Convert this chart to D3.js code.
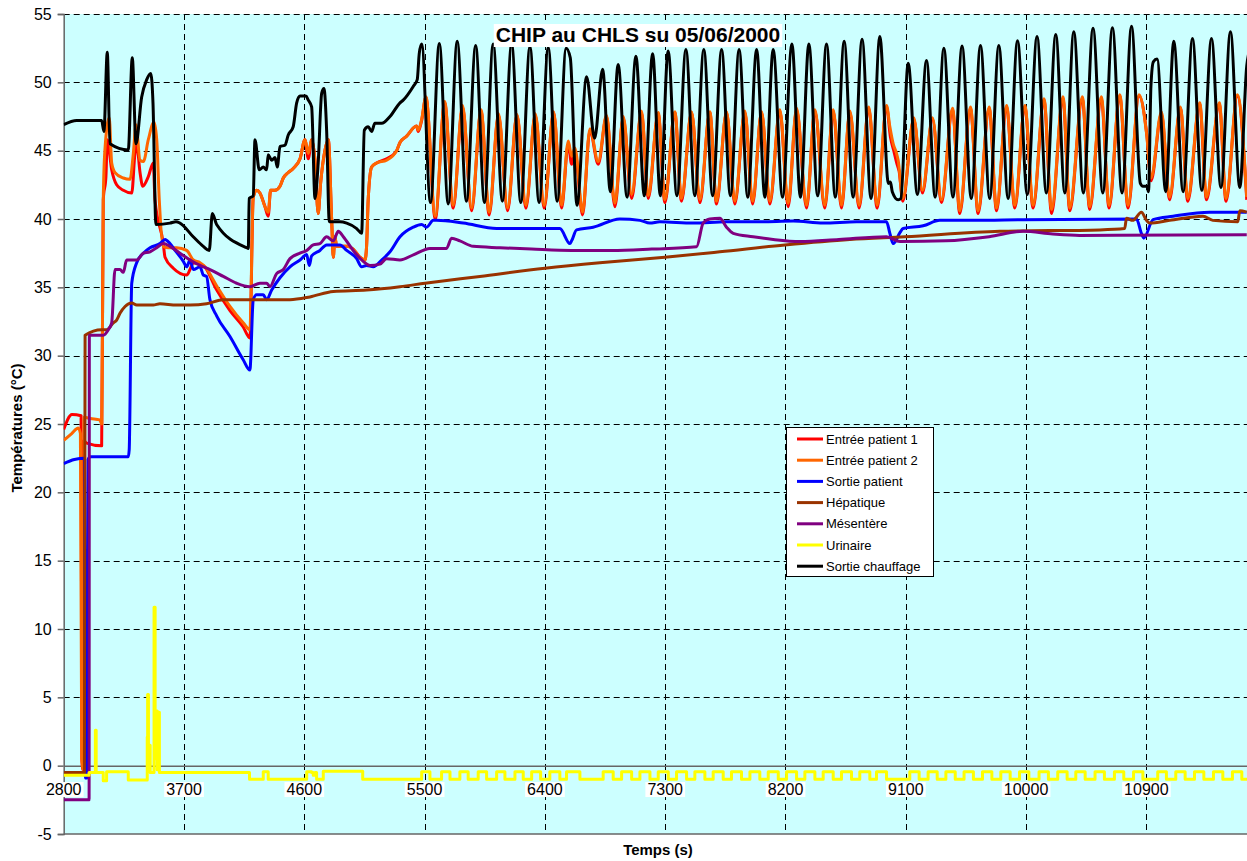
<!DOCTYPE html>
<html><head><meta charset="utf-8">
<script src="https://cdn.jsdelivr.net/npm/d3@7/dist/d3.min.js"></script>
<style>
body{margin:0;background:#fff;}
svg{display:block;font-family:"Liberation Sans",Arial,sans-serif;}
</style>
</head><body>
<svg id="chart" width="1247" height="861"></svg>
<script>
// Axis ticks
const xTicks = [2800,3700,4600,5500,6400,7300,8200,9100,10000,10900];
const yTicks = [-5,0,5,10,15,20,25,30,35,40,45,50,55];

const seriesNames = ["Entrée patient 1","Entrée patient 2","Sortie patient","Hépatique","Mésentère","Urinaire","Sortie chauffage"];
const seriesColors = ["#ff0000","#ff6600","#0000ff","#993300","#800080","#ffff00","#000000"];

// [time (s), temperature (°C)]
const entreePatient1 = [
[2800,24.6],[2862,25.7],[2930,25.6],[2936,0.5],[2944,-0.3],[2950,23.8],[2972,23.6],[3084,23.4],[3096,41.4],[3116,43.1],[3126,45.8],[3159,43.6],[3196,42.5],[3246,42.1],[3309,41.9],[3333,44.8],[3346,45.5],[3371,43.4],[3391,42.4],[3433,43.1],[3470,44.1],[3483,41.4],[3545,38.2],[3558,37.2],[3620,36.4],[3720,35.9],[3745,36.3],[3770,36.8],[3844,36.6],[3945,34.8],[4044,33.3],[4143,32.1],[4193,31.3],[4218,41.6],[4243,42.1],[4268,41.9],[4306,40.9],[4330,40.2],[4348,42.1],[4381,42.1],[4418,42.4],[4443,43.0],[4480,43.4],[4517,43.7],[4568,44.4],[4605,45.8],[4630,44.4],[4655,45.8],[4680,44.3],[4704,40.4],[4722,42.6],[4755,45.05],[4780,45.8],[4805,39.9],[4817,37.2],[4829,38.7],[4842,38.0],[4917,38.0],[4966,37.8],[5016,37.2],[5054,37.0],[5066,38.0],[5078,41.4],[5104,43.8],[5141,44.1],[5216,44.4],[5291,45.0],[5316,45.6],[5364,46.05],[5440,46.8],[5452,46.4],[5478,47.2],[5510,48.9],
[5580,40.0],[5650,48.5],[5714,40.8],[5784,48.2],[5852,40.6],[5922,47.9],[5983,40.3],[6053,47.6],[6121,40.6],[6191,47.6],[6258,40.8],[6328,47.6],[6395,40.8],[6465,47.8],[6525,40.8],[6575,45.5],[6600,44.0],[6625,44.9],[6682,40.3],[6737,46.5],[6799,44.0],[6861,47.5],[6924,40.9],[6986,47.4],[7049,41.5],[7123,47.8],[7173,41.5],[7248,47.7],[7298,41.2],[7372,47.8],[7422,41.3],[7497,47.8],[7560,41.2],[7634,47.8],[7684,41.1],[7759,47.8],[7821,41.1],[7896,47.8],[7954,41.1],[8021,47.8],[8083,41.1],[8158,47.9],[8220,40.9],[8283,48.0],[8358,40.8],[8420,47.9],[8494,40.8],[8557,47.9],[8619,40.8],[8682,47.8],[8751,40.8],[8823,48.1],[8886,40.8],[8956,48.2],[8985,46.0],[9010,45.0],[9035,44.0],[9050,43.5],[9078,41.3],[9160,47.3],[9225,41.9],[9300,47.3],[9367,41.2],[9450,48.0],[9504,40.4],[9584,48.1],[9641,40.4],[9724,48.1],[9779,40.6],[9854,48.2],[9916,40.8],[9991,48.2],[10053,40.8],[10134,48.7],[10191,40.4],[10276,48.8],[10327,40.6],[10421,48.8],[10476,40.7],[10563,48.8],[10621,40.8],[10701,49.0],[10763,40.8],[10845,49.0],[10905,46.0],[10935,42.8],[11013,47.7],[11073,41.4],[11155,48.1],[11210,41.3],[11299,48.4],[11350,41.4],[11446,48.4],[11496,41.3],[11581,49.0],[11651,41.4]
];
const entreePatient2 = [
[2800,23.8],[2860,24.3],[2909,24.7],[2925,24.3],[2935,0.5],[2945,-0.3],[2952,25.5],[3000,25.4],[3070,25.3],[3085,25.0],[3096,41.4],[3108,45.0],[3141,47.4],[3159,44.1],[3184,43.4],[3246,43.0],[3296,42.9],[3321,44.8],[3341,46.9],[3371,44.3],[3396,44.2],[3433,45.8],[3476,47.1],[3496,45.8],[3515,41.4],[3545,38.0],[3582,37.9],[3645,37.9],[3720,37.7],[3770,37.0],[3820,36.8],[3857,36.5],[3945,35.1],[4044,33.6],[4143,32.4],[4193,31.9],[4218,41.6],[4243,42.1],[4268,41.9],[4306,40.9],[4330,40.5],[4348,42.1],[4381,42.1],[4418,42.4],[4443,43.0],[4480,43.4],[4517,43.7],[4568,44.4],[4605,45.8],[4630,44.8],[4655,45.8],[4680,44.3],[4704,40.4],[4722,42.6],[4755,45.05],[4780,45.8],[4805,39.9],[4817,37.2],[4829,38.7],[4842,38.0],[4917,38.0],[4966,37.8],[5016,37.2],[5054,37.0],[5066,38.0],[5078,41.4],[5104,43.8],[5141,44.1],[5216,44.3],[5291,45.0],[5316,45.6],[5364,46.05],[5440,46.8],[5452,46.5],[5478,47.3],[5510,48.95],
[5580,40.2],[5650,48.6],[5714,41.0],[5784,48.3],[5852,40.8],[5922,48.0],[5983,40.5],[6053,47.7],[6121,40.8],[6191,47.65],[6258,41.0],[6328,47.7],[6395,41.0],[6465,47.85],[6525,41.0],[6575,45.7],[6600,44.6],[6625,45.2],[6682,40.5],[6737,46.6],[6799,44.2],[6861,47.6],[6924,41.15],[6986,47.5],[7049,41.8],[7123,47.9],[7173,41.7],[7248,47.8],[7298,41.4],[7372,47.85],[7422,41.5],[7497,47.85],[7560,41.4],[7634,47.85],[7684,41.3],[7759,47.85],[7821,41.3],[7896,47.9],[7954,41.3],[8021,47.85],[8083,41.3],[8158,48.0],[8220,41.15],[8283,48.1],[8358,41.0],[8420,48.0],[8494,41.0],[8557,48.0],[8619,41.0],[8682,47.9],[8751,41.0],[8823,48.2],[8886,41.0],[8956,48.3],[8981,46.75],[9006,45.5],[9031,44.8],[9043,44.3],[9078,41.5],[9160,47.4],[9225,42.1],[9300,47.4],[9367,41.4],[9450,48.1],[9504,40.6],[9584,48.2],[9641,40.6],[9724,48.2],[9779,40.8],[9854,48.3],[9916,41.0],[9991,48.3],[10053,41.0],[10134,48.8],[10191,40.7],[10276,48.95],[10327,40.8],[10421,48.95],[10476,40.9],[10563,48.95],[10621,41.0],[10701,49.1],[10763,41.0],[10845,49.1],[10901,46.3],[10935,43.0],[11013,47.85],[11073,41.6],[11155,48.2],[11210,41.5],[11299,48.5],[11350,41.6],[11446,48.5],[11496,41.5],[11581,49.1],[11651,41.6]
];
const sortiePatient = [
[2800,22.1],[2880,22.4],[2955,22.5],[2962,-0.9],[2975,-0.9],[2982,22.4],[3000,22.6],[3283,22.6],[3290,23.1],[3309,35.3],[3346,36.8],[3396,37.5],[3446,37.9],[3520,38.2],[3558,38.5],[3595,38.2],[3633,37.7],[3695,36.9],[3720,36.5],[3745,37.0],[3770,36.3],[3820,36.5],[3844,35.9],[3869,35.8],[3894,34.1],[3945,32.9],[4044,31.4],[4143,29.7],[4193,28.95],[4218,34.1],[4243,34.45],[4293,34.45],[4318,34.1],[4356,34.8],[4418,35.7],[4493,36.5],[4568,37.0],[4618,37.4],[4637,36.6],[4655,37.3],[4717,37.7],[4767,38.1],[4817,38.1],[4867,38.1],[4917,37.7],[4992,37.1],[5029,36.5],[5066,36.6],[5116,36.5],[5179,37.0],[5241,37.6],[5316,38.7],[5415,39.4],[5478,39.6],[5515,39.4],[5565,39.9],[5589,39.9],[5789,39.7],[6039,39.3],[6288,39.3],[6512,39.3],[6587,38.2],[6600,38.4],[6637,39.2],[6761,39.4],[6961,40.0],[7111,39.9],[7185,39.7],[7260,39.8],[7509,39.7],[7759,39.8],[8008,39.8],[8258,39.85],[8482,39.7],[8732,39.8],[8956,39.8],[8981,38.95],[9006,38.2],[9056,39.0],[9080,39.3],[9230,39.5],[9355,39.9],[9604,39.9],[9978,39.95],[10826,40.0],[10863,38.95],[10881,38.6],[10950,39.95],[11100,40.2],[11374,40.5],[11651,40.5]
];
const hepatique = [
[2800,-0.5],[2955,-0.5],[2960,31.5],[3084,31.9],[3121,31.9],[3171,32.4],[3196,32.6],[3221,33.1],[3259,33.6],[3309,33.85],[3346,33.7],[3470,33.7],[3520,33.8],[3645,33.7],[3745,33.7],[3869,33.8],[3994,34.1],[4193,34.1],[4493,34.1],[4642,34.3],[4817,34.7],[5066,34.8],[5316,35.05],[5503,35.3],[5914,35.8],[6400,36.4],[6811,36.8],[7298,37.2],[7709,37.6],[8195,38.1],[8681,38.5],[9093,38.7],[9804,39.1],[10552,39.2],[10738,39.3],[10751,40.05],[10798,39.9],[10863,40.5],[10901,39.9],[10925,39.7],[11075,39.9],[11324,40.2],[11397,39.9],[11584,39.8],[11599,40.6],[11651,40.5]
];
const mesentere = [
[2800,-2.5],[2990,-2.5],[2992,31.5],[3096,31.5],[3134,31.9],[3159,32.4],[3184,36.3],[3221,36.3],[3246,36.1],[3271,37.0],[3346,37.0],[3396,37.5],[3446,37.6],[3496,37.9],[3545,38.2],[3595,38.0],[3670,37.5],[3745,37.0],[3820,36.6],[3894,36.3],[3994,35.8],[4094,35.3],[4193,35.05],[4268,35.3],[4318,35.3],[4343,35.05],[4393,36.0],[4443,36.3],[4493,37.1],[4568,37.5],[4618,37.7],[4667,38.1],[4717,38.2],[4767,38.7],[4817,38.4],[4854,39.1],[4892,38.7],[4966,37.7],[5041,36.9],[5091,36.6],[5166,36.7],[5216,37.1],[5316,37.0],[5420,37.4],[5540,37.85],[5664,37.85],[5702,38.6],[5764,38.4],[5864,38.0],[6064,37.9],[6300,37.8],[6600,37.7],[6900,37.7],[7200,37.8],[7535,37.97],[7584,39.7],[7634,40.0],[7709,40.05],[7759,39.4],[7809,38.95],[7958,38.7],[8108,38.5],[8308,38.35],[8600,38.5],[8956,38.7],[9056,38.35],[9400,38.4],[9724,38.7],[9978,39.1],[10200,38.9],[10400,38.8],[11651,38.85]
];
const urinaire = [
[2800,-0.7],[2985,-0.7],[2990,-0.5],[3034,-0.5],[3037,2.6],[3043,-0.5],[3084,-0.5],[3096,-1.1],[3116,-1.1],[3121,-0.45],[3271,-0.45],[3283,-1.05],[3421,-1.05],[3425,2.1],[3428,5.2],[3434,0.5],[3441,1.5],[3447,-0.5],[3470,-0.5],[3476,11.6],[3484,0.5],[3494,4.0],[3500,-0.3],[3510,3.9],[3516,-0.5],[4181,-0.5],[4190,-1.0],[4281,-1.0],[4293,-0.45],[4318,-0.45],[4330,-1.0],[4605,-1.0],[4618,-0.45],[4655,-0.5],[4667,-0.7],[4680,-0.5],[4692,-1.0],[4730,-1.0],[4742,-0.4],[5029,-0.4],[5037,-1.0],
[5478,-0.45],[5540,-1.0],[5627,-0.45],[5690,-1.0],[5764,-0.45],[5826,-1.0],[5901,-0.45],[5964,-1.0],[6039,-0.45],[6101,-1.0],[6176,-0.45],[6238,-1.0],[6301,-0.45],[6368,-1.0],[6437,-0.45],[6512,-1.0],[6562,-0.45],[6662,-1.0],[6836,-0.45],[6911,-1.0],[6974,-0.45],[7049,-1.0],[7111,-0.45],[7186,-1.0],[7248,-0.45],[7323,-1.0],[7385,-0.45],[7460,-1.0],[7522,-0.45],[7597,-1.0],[7659,-0.45],[7734,-1.0],[7796,-0.45],[7871,-1.0],[7934,-0.45],[8008,-1.0],[8071,-0.45],[8146,-1.0],[8208,-0.45],[8283,-1.0],[8345,-0.45],[8420,-1.0],[8482,-0.45],[8557,-1.0],[8619,-0.45],[8694,-1.0],[8756,-0.45],[8831,-1.0],[8881,-0.45],[8956,-1.0],[9130,-0.45],[9200,-1.0],[9267,-0.45],[9335,-1.0],[9400,-0.45],[9470,-1.0],[9536,-0.45],[9606,-1.0],[9674,-0.45],[9744,-1.0],[9811,-0.45],[9881,-1.0],[9951,-0.45],[10021,-1.0],[10097,-0.45],[10167,-1.0],[10237,-0.45],[10307,-1.0],[10372,-0.45],[10442,-1.0],[10516,-0.45],[10586,-1.0],[10661,-0.45],[10731,-1.0],[10804,-0.45],[10874,-1.0],[10985,-0.45],[11050,-1.0],[11120,-0.45],[11190,-1.0],[11260,-0.45],[11330,-1.0],[11402,-0.45],[11472,-1.0],[11544,-0.45],[11614,-1.0],[11700,-1.0]
];
const sortieChauffage = [
[2800,46.9],[2897,47.2],[3084,47.2],[3101,46.4],[3126,52.2],[3146,45.5],[3283,45.05],[3313,51.8],[3341,45.5],[3383,48.9],[3421,50.2],[3451,50.65],[3468,48.5],[3490,39.6],[3595,39.7],[3640,39.8],[3670,39.7],[3769,38.7],[3844,38.0],[3889,37.7],[3912,40.4],[3944,39.6],[4169,37.9],[4181,37.85],[4188,41.5],[4218,41.7],[4231,45.8],[4263,43.6],[4293,43.8],[4318,43.6],[4330,44.7],[4356,44.3],[4381,44.5],[4398,43.8],[4418,45.3],[4455,45.4],[4480,46.15],[4517,46.75],[4543,48.5],[4568,49.0],[4612,49.0],[4630,48.7],[4655,48.2],[4680,41.5],[4704,44.1],[4730,49.2],[4747,49.55],[4767,46.5],[4787,39.8],[4867,39.8],[4917,39.7],[4992,39.3],[5029,38.95],[5049,46.5],[5078,46.75],[5104,46.4],[5128,47.0],[5179,47.0],[5241,47.5],[5316,48.5],[5340,48.7],[5415,49.7],[5445,50.2],[5460,52.1],[5478,52.8],
[5544,41.2],[5610,52.85],[5677,41.1],[5744,53.0],[5813,41.3],[5882,52.7],[5948,41.2],[6013,52.8],[6082,41.3],[6151,52.8],[6220,41.2],[6288,52.6],[6357,41.2],[6425,52.55],[6492,41.3],[6559,52.5],[6590,51.8],[6640,41.0],[6712,50.4],[6772,45.9],[6832,50.95],[6890,42.0],[6948,51.3],[7015,41.6],[7081,51.9],[7144,41.7],[7206,52.1],[7264,41.7],[7322,52.3],[7388,41.7],[7455,52.4],[7522,41.7],[7589,52.4],[7655,41.7],[7722,52.4],[7788,41.7],[7853,52.4],[7918,41.6],[7984,52.4],[8046,41.6],[8108,52.4],[8178,41.6],[8248,52.8],[8312,41.6],[8375,52.8],[8441,41.7],[8507,52.8],[8573,41.6],[8639,53.0],[8706,41.6],[8773,53.15],[8840,41.5],[8906,53.35],[8970,42.6],[8985,42.7],[8999,42.0],[9043,41.4],[9063,41.5],[9118,51.4],[9187,41.8],[9255,51.6],[9320,41.6],[9385,52.5],[9453,41.6],[9521,52.65],[9590,41.5],[9659,52.7],[9728,41.5],[9796,52.7],[9866,41.5],[9936,53.05],[10009,41.8],[10082,53.35],[10152,41.9],[10222,53.5],[10290,41.9],[10357,53.7],[10429,41.9],[10501,53.95],[10574,41.9],[10646,54.0],[10718,41.9],[10789,54.1],[10855,42.6],[10874,42.4],[10904,42.4],[10916,42.0],[10934,49.7],[10952,51.5],[10980,51.7],[11045,42.0],[11105,53.0],[11175,42.0],[11245,53.2],[11315,42.1],[11387,53.2],[11458,42.3],[11529,53.7],[11599,42.3],[11651,51.2],[11680,52.6]
];

const seriesData = [entreePatient1, entreePatient2, sortiePatient, hepatique, mesentere, urinaire, sortieChauffage];

const svg = d3.select("#chart");
const xMin = 2800, xMax = 11700, yMin = -5, yMax = 55;
const x = d3.scaleLinear().domain([xMin, xMax]).range([63.7, 1253.3]);
const y = d3.scaleLinear().domain([yMin, yMax]).range([834, 14]);
const fmt = d => String(d);

// plot area
svg.append("rect")
  .attr("x", x(xMin)).attr("y", y(yMax))
  .attr("width", x(xMax) - x(xMin)).attr("height", y(yMin) - y(yMax))
  .attr("fill", "#ccffff");

svg.append("clipPath").attr("id", "plotClip").append("rect")
  .attr("x", x(xMin)).attr("y", y(yMax))
  .attr("width", x(xMax) - x(xMin)).attr("height", y(yMin) - y(yMax));

// dashed grid
const grid = svg.append("g").attr("stroke", "#000").attr("stroke-width", 1).attr("stroke-dasharray", "6,4");
grid.selectAll("line.h").data(yTicks.filter(v => v !== 0 && v !== yMin)).join("line")
  .attr("class", "h")
  .attr("x1", x(xMin)).attr("x2", x(xMax))
  .attr("y1", d => Math.round(y(d)) + 0.5).attr("y2", d => Math.round(y(d)) + 0.5);
grid.selectAll("line.v").data(xTicks.filter(v => v !== xMin)).join("line")
  .attr("class", "v")
  .attr("x1", d => Math.round(x(d)) + 0.5).attr("x2", d => Math.round(x(d)) + 0.5)
  .attr("y1", y(yMax)).attr("y2", y(yMin));

// bottom border
svg.append("line")
  .attr("x1", x(xMin)).attr("x2", x(xMax))
  .attr("y1", y(yMin)).attr("y2", y(yMin))
  .attr("stroke", "#666").attr("stroke-width", 1.5);

// horizontal axis along 0 °C
const xAxis = svg.append("g")
  .attr("transform", `translate(0,${y(0)})`)
  .call(d3.axisBottom(x).tickValues(xTicks).tickFormat(fmt).tickSize(0).tickPadding(18));
xAxis.select(".domain").attr("stroke", "#666").attr("stroke-width", 1.5);
xAxis.selectAll("text").attr("font-size", 16).attr("fill", "#000")
  .attr("font-family", "Liberation Sans, Arial, sans-serif");

// vertical axis
const yAxis = svg.append("g")
  .attr("transform", `translate(${x(xMin)},0)`)
  .call(d3.axisLeft(y).tickValues(yTicks).tickFormat(fmt).tickSize(6).tickPadding(6));
yAxis.select(".domain").attr("stroke", "#666").attr("stroke-width", 1.5);
yAxis.selectAll(".tick line").attr("stroke", "#666").attr("stroke-width", 1.5);
yAxis.selectAll("text").attr("font-size", 16).attr("fill", "#000")
  .attr("font-family", "Liberation Sans, Arial, sans-serif");

// series
const lineGen = d3.line().x(d => x(d[0])).y(d => y(d[1])).curve(d3.curveMonotoneX);
const stepGen = d3.line().x(d => x(d[0])).y(d => y(d[1])).curve(d3.curveStepAfter);
const plot = svg.append("g").attr("clip-path", "url(#plotClip)");
seriesData.forEach((data, i) => {
  plot.append("path")
    .datum(data)
    .attr("fill", "none")
    .attr("stroke", seriesColors[i])
    .attr("stroke-width", 3)
    .attr("stroke-linejoin", "round")
    .attr("d", seriesNames[i] === "Urinaire" ? stepGen : lineGen);
});

// tick labels on white boxes, drawn above the lines
const labelLayer = svg.append("g");
xAxis.selectAll(".tick").each(function(d) {
  const t = d3.select(this).select("text").node();
  const bb = t.getBBox();
  const g = labelLayer.append("g").attr("transform", `translate(${x(d)},${y(0)})`);
  g.append("rect").attr("x", bb.x - 2).attr("y", bb.y + 1).attr("width", bb.width + 4).attr("height", bb.height - 2).attr("fill", "#fff");
  g.append("text").attr("x", 0).attr("y", 18).attr("dy", "0.71em").attr("text-anchor", "middle")
    .attr("font-size", 16).text(fmt(d));
});
xAxis.selectAll("text").remove();

// title
const title = svg.append("g");
const titleText = title.append("text")
  .attr("x", 638).attr("y", 42).attr("text-anchor", "middle")
  .attr("font-size", 21).attr("font-weight", "bold")
  .text("CHIP au CHLS su 05/06/2000");
const tb = titleText.node().getBBox();
title.insert("rect", "text").attr("x", tb.x - 2).attr("y", tb.y + 1).attr("width", tb.width + 4).attr("height", tb.height).attr("fill", "#fff");

// axis titles
svg.append("text")
  .attr("x", 658).attr("y", 855).attr("text-anchor", "middle")
  .attr("font-size", 15).attr("font-weight", "bold")
  .text("Temps (s)");
svg.append("text")
  .attr("transform", "translate(22,428) rotate(-90)")
  .attr("text-anchor", "middle")
  .attr("font-size", 15).attr("font-weight", "bold")
  .text("Températures (°C)");

// legend
const legend = svg.append("g").attr("transform", "translate(786,427)");
legend.append("rect").attr("x", 0.5).attr("y", 0.5).attr("width", 147).attr("height", 149)
  .attr("fill", "#fff").attr("stroke", "#000").attr("stroke-width", 1);
seriesNames.forEach((name, i) => {
  const cy = 12 + i * 21.2;
  legend.append("line").attr("x1", 11).attr("x2", 37).attr("y1", cy).attr("y2", cy)
    .attr("stroke", seriesColors[i]).attr("stroke-width", 3);
  legend.append("text").attr("x", 40).attr("y", cy).attr("dy", "0.35em")
    .attr("font-size", 13).text(name);
});
</script>
</body></html>
